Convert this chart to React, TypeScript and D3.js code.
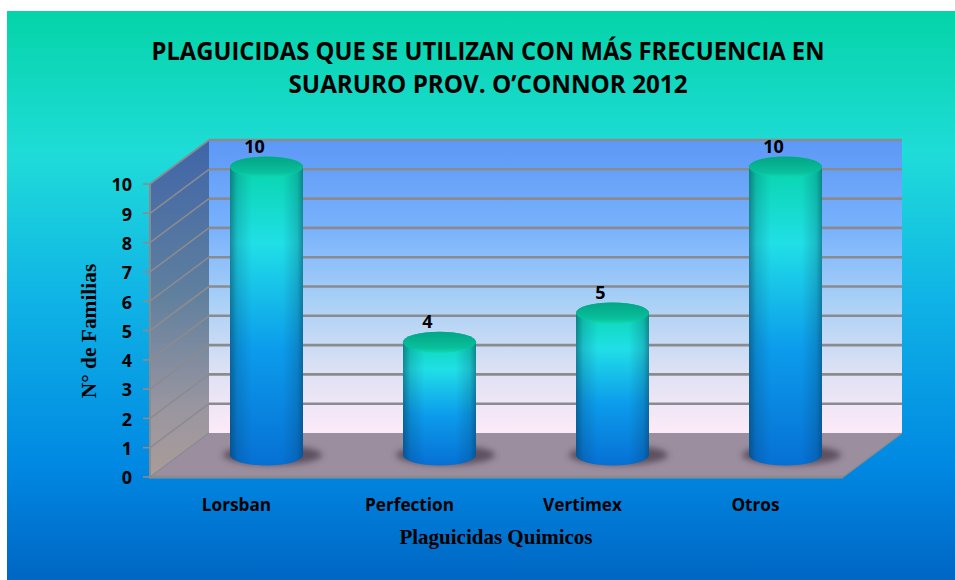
import React from "react";
import * as d3 from "d3";

const categories = ["Lorsban", "Perfection", "Vertimex", "Otros"];
const values = [10, 4, 5, 10];
const ticks = [0, 1, 2, 3, 4, 5, 6, 7, 8, 9, 10];
const titleLines = ["PLAGUICIDAS QUE SE UTILIZAN CON MÁS FRECUENCIA EN", "SUARURO PROV. O’CONNOR 2012"];
const xTitle = "Plaguicidas Quimicos";
const yTitle = "N° de Familias";

const W = 955, H = 580;
const front = { x0: 150, x1: 843, y0: 477, y1: 184 };
const dx = 59, dy = -44;
const yFront = d3.scaleLinear().domain([0, 10]).range([front.y0, front.y1]);
const yTop = d3.scaleLinear().domain([0, 10]).range([459, 167]);
const x = d3.scaleBand<string>().domain(categories).range([180, 872]).paddingInner(100 / 173).paddingOuter(50 / 173);
const baseY = 455, ry = 10.5;
const sans = "'Open Sans','Noto Sans',sans-serif";
const serif = "'Liberation Serif',serif";
const grid = "#8b8b8f";

function cylPath(cx: number, rx: number, top: number) {
  return `M${cx - rx},${top}L${cx - rx},${baseY}A${rx},${ry} 0 0 0 ${cx + rx},${baseY}L${cx + rx},${top}A${rx},${ry} 0 0 0 ${cx - rx},${top}Z`;
}

export default function App() {
  const rx = x.bandwidth() / 2;
  return (
    <svg width={W} height={H} style={{ position: "fixed", left: 0, top: 0 }}>
      <defs>
        <linearGradient id="bg" x1="0" y1="0" x2="0" y2="1">
          <stop offset="0" stopColor="#04d4a8" />
          <stop offset="0.25" stopColor="#1fdcd8" />
          <stop offset="0.5" stopColor="#10b4e6" />
          <stop offset="0.8" stopColor="#0088e2" />
          <stop offset="1" stopColor="#0066c4" />
        </linearGradient>
        <linearGradient id="back" x1="0" y1="0" x2="0" y2="1">
          <stop offset="0" stopColor="#5c98f6" />
          <stop offset="0.3" stopColor="#78b2fc" />
          <stop offset="0.55" stopColor="#a9d0f6" />
          <stop offset="0.8" stopColor="#dfe2f4" />
          <stop offset="1" stopColor="#fdeaf8" />
        </linearGradient>
        <linearGradient id="side" x1="0" y1="0" x2="0" y2="1">
          <stop offset="0" stopColor="#3f65a8" />
          <stop offset="0.45" stopColor="#5f7f9e" />
          <stop offset="0.8" stopColor="#9a96a0" />
          <stop offset="1" stopColor="#aa9c98" />
        </linearGradient>
        <linearGradient id="cyl" x1="0" y1="0" x2="0" y2="1">
          <stop offset="0" stopColor="#05d4a6" />
          <stop offset="0.28" stopColor="#20dfe6" />
          <stop offset="0.62" stopColor="#0c9cec" />
          <stop offset="1" stopColor="#0670d4" />
        </linearGradient>
        <linearGradient id="shade" x1="0" y1="0" x2="1" y2="0">
          <stop offset="0" stopColor="#06304a" stopOpacity="0.5" />
          <stop offset="0.1" stopColor="#06304a" stopOpacity="0.18" />
          <stop offset="0.3" stopColor="#06304a" stopOpacity="0" />
          <stop offset="0.72" stopColor="#06304a" stopOpacity="0" />
          <stop offset="0.92" stopColor="#06304a" stopOpacity="0.2" />
          <stop offset="1" stopColor="#06304a" stopOpacity="0.48" />
        </linearGradient>
        <linearGradient id="cap" x1="0" y1="0" x2="0" y2="1">
          <stop offset="0" stopColor="#03a585" />
          <stop offset="0.75" stopColor="#08bf9c" />
          <stop offset="1" stopColor="#10d8b0" />
        </linearGradient>
        <filter id="blur" x="-30%" y="-80%" width="160%" height="260%">
          <feGaussianBlur stdDeviation="3" />
        </filter>
      </defs>

      <rect x={7} y={11} width={W - 7} height={H - 11} fill="url(#bg)" />

      <rect x={front.x0 + dx} y={yFront(10) + dy} width={front.x1 - front.x0} height={yFront(0) - yFront(10)} fill="url(#back)" />
      <polygon
        points={`${front.x0},${yFront(10)} ${front.x0 + dx},${yFront(10) + dy} ${front.x0 + dx},${yFront(0) + dy} ${front.x0},${yFront(0)}`}
        fill="url(#side)"
      />
      <polygon
        points={`${front.x0},${front.y0} ${front.x0 + dx},${front.y0 + dy} ${front.x1 + dx},${front.y0 + dy} ${front.x1},${front.y0}`}
        fill="#9b8f9f"
      />

      {ticks.filter((t) => t > 0).map((t) => (
        <g key={t} stroke={grid} fill="none">
          <line x1={front.x0 + dx} x2={front.x1 + dx} y1={yFront(t) + dy} y2={yFront(t) + dy} strokeWidth={2.6} />
          <line x1={front.x0} x2={front.x0 + dx} y1={yFront(t)} y2={yFront(t) + dy} strokeWidth={1.6} />
        </g>
      ))}
      <line x1={front.x0} x2={front.x0 + dx} y1={front.y0} y2={front.y0 + dy} stroke={grid} strokeWidth={1.2} />
      <line x1={front.x1} x2={front.x1 + dx} y1={front.y0} y2={front.y0 + dy} stroke={grid} strokeWidth={1.5} />
      <line x1={front.x0 - 1} x2={front.x1} y1={front.y0} y2={front.y0} stroke={grid} strokeWidth={3} />
      <line x1={front.x0} x2={front.x0} y1={front.y1} y2={front.y0} stroke={grid} strokeWidth={2} />
      {ticks.map((t) => (
        <line key={t} x1={front.x0 - 7} x2={front.x0} y1={yFront(t)} y2={yFront(t)} stroke={grid} strokeWidth={1.6} />
      ))}
      {ticks.map((t) => (
        <text key={t} x={132} y={yFront(t) + 1} dy="0.35em" textAnchor="end" fontFamily={sans} fontWeight={700} fontSize={18} fill="#000">
          {t}
        </text>
      ))}

      {categories.map((c, i) => {
        const cx = x(c)! + rx;
        const top = yTop(values[i]);
        return (
          <g key={c}>
            <ellipse cx={cx + 6} cy={baseY} rx={rx + 13} ry={ry - 0.5} fill="#4a3a4a" opacity={0.75} filter="url(#blur)" />
            <path d={cylPath(cx, rx, top)} fill="url(#cyl)" />
            <path d={cylPath(cx, rx, top)} fill="url(#shade)" />
            <ellipse cx={cx} cy={top} rx={rx} ry={ry} fill="url(#cap)" />
            <text x={cx - 12} y={top - 14} textAnchor="middle" fontFamily={sans} fontWeight={700} fontSize={18} fill="#000">
              {values[i]}
            </text>
            <text x={cx - 30} y={511} textAnchor="middle" fontFamily={sans} fontWeight={700} fontSize={17.2} fill="#000">
              {c}
            </text>
          </g>
        );
      })}

      <text x={488} y={60} textAnchor="middle" textLength={673} lengthAdjust="spacingAndGlyphs" fontFamily={sans} fontWeight={700} fontSize={24.5} fill="#000">
        {titleLines[0]}
      </text>
      <text x={488} y={93} textAnchor="middle" textLength={399} lengthAdjust="spacingAndGlyphs" fontFamily={sans} fontWeight={700} fontSize={24.5} fill="#000">
        {titleLines[1]}
      </text>
      <text x={496} y={544} textAnchor="middle" fontFamily={serif} fontWeight={700} fontSize={21} fill="#000">
        {xTitle}
      </text>
      <text transform="translate(96,331) rotate(-90)" textAnchor="middle" fontFamily={serif} fontWeight={700} fontSize={21.4} fill="#000">
        {yTitle}
      </text>
    </svg>
  );
}
